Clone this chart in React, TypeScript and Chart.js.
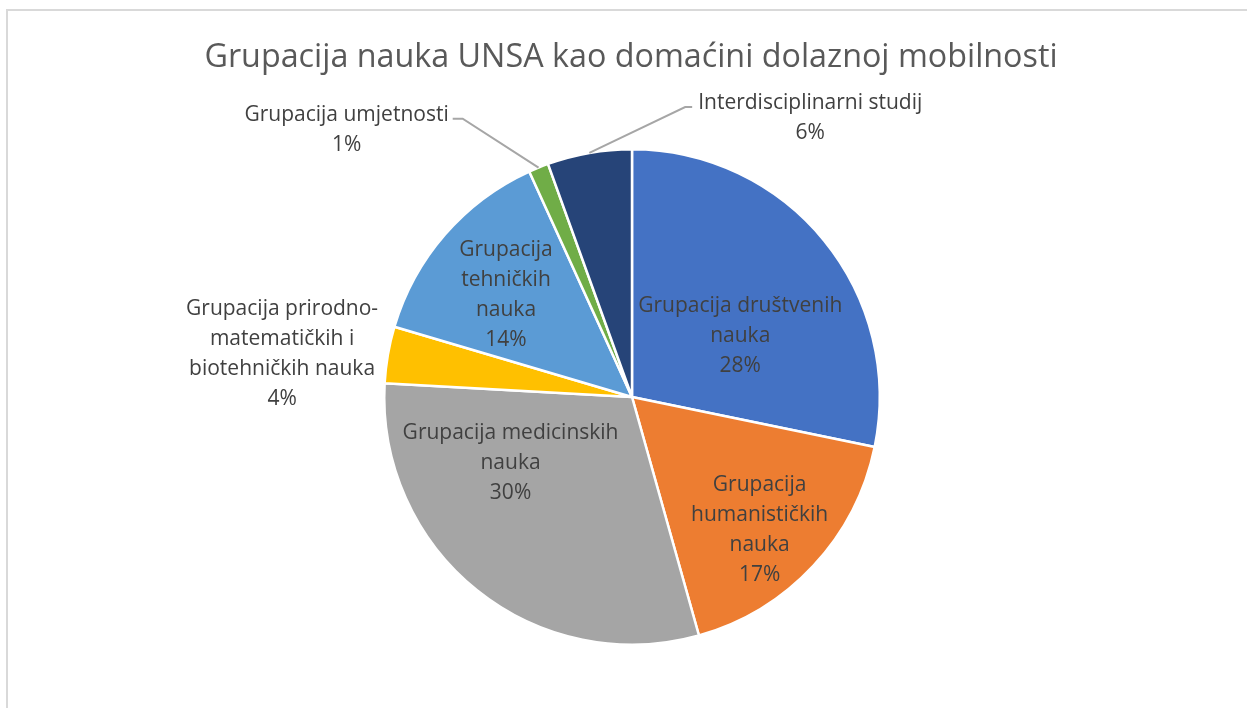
import { useEffect, useRef } from "react";
import { Chart, registerables } from "chart.js";

Chart.register(...registerables);

const TITLE = "Grupacija nauka UNSA kao domaćini dolaznoj mobilnosti";

const categories = [
  "Grupacija društvenih nauka",
  "Grupacija humanističkih nauka",
  "Grupacija medicinskih nauka",
  "Grupacija prirodno-matematičkih i biotehničkih nauka",
  "Grupacija tehničkih nauka",
  "Grupacija umjetnosti",
  "Interdisciplinarni studij",
];

const shares = [28.2, 17.4, 30.2, 3.7, 13.6, 1.3, 5.5];

const labelLines = [
  ["Grupacija društvenih", "nauka"],
  ["Grupacija", "humanističkih", "nauka"],
  ["Grupacija medicinskih", "nauka"],
  ["Grupacija prirodno-", "matematičkih i", "biotehničkih nauka"],
  ["Grupacija", "tehničkih", "nauka"],
  ["Grupacija umjetnosti"],
  ["Interdisciplinarni studij"],
];

const colors = ["#4472C4", "#ED7D31", "#A5A5A5", "#FFC000", "#5B9BD5", "#70AD47", "#264478"];

// label placement: angular shift (deg) from slice middle, distance as fraction of radius, leader side
const labelPlacement = [
  { shift: 8.9, dist: 0.506, leader: "" },
  { shift: 2.7, dist: 0.737, leader: "" },
  { shift: 23.3, dist: 0.555, leader: "" },
  { shift: -2.5, dist: 1.424, leader: "" },
  { shift: -1.4, dist: 0.66, leader: "" },
  { shift: -24.5, dist: 1.584, leader: "right" },
  { shift: 42.3, dist: 1.343, leader: "left" },
];

const FONT = "'Open Sans', 'Noto Sans', sans-serif";
const LABEL_SIZE = 21;
const TITLE_SIZE = 32.3;
const LINE_H = 30;
const TEXT_NUDGE = 2;

const decorPlugin = {
  id: "decor",
  beforeDraw(chart: any) {
    const ctx = chart.ctx;
    ctx.save();
    ctx.fillStyle = "#ffffff";
    ctx.fillRect(0, 0, chart.width, chart.height);
    ctx.strokeStyle = "#d9d9d9";
    ctx.lineWidth = 2;
    ctx.strokeRect(7, 10, chart.width + 20, chart.height + 20);
    ctx.fillStyle = "#595959";
    ctx.font = `${TITLE_SIZE}px ${FONT}`;
    ctx.textAlign = "center";
    ctx.textBaseline = "middle";
    ctx.fillText(TITLE, 631, 58);
    ctx.restore();
  },
  afterDatasetsDraw(chart: any) {
    const ctx = chart.ctx;
    const meta = chart.getDatasetMeta(0);
    const total = shares.reduce((a, b) => a + b, 0);
    ctx.save();
    ctx.font = `${LABEL_SIZE}px ${FONT}`;
    ctx.textAlign = "center";
    ctx.textBaseline = "middle";
    meta.data.forEach((arc: any, i: number) => {
      const { x, y, startAngle, endAngle, outerRadius } = arc.getProps(
        ["x", "y", "startAngle", "endAngle", "outerRadius"],
        true
      );
      const mid = (startAngle + endAngle) / 2;
      const p = labelPlacement[i];
      const a = mid + (p.shift * Math.PI) / 180;
      const cx = x + Math.cos(a) * outerRadius * p.dist;
      const cy = y + Math.sin(a) * outerRadius * p.dist;
      const lines = [...labelLines[i], `${Math.round((shares[i] / total) * 100)}%`];
      const n = lines.length;
      const top = cy - (n * LINE_H) / 2;
      ctx.fillStyle = "#404040";
      lines.forEach((t, k) => ctx.fillText(t, cx, top + LINE_H * (k + 0.5) + TEXT_NUDGE));
      if (p.leader) {
        const w = Math.max(...labelLines[i].map((t) => ctx.measureText(t).width));
        const ey = top + LINE_H * 0.7;
        const sx = x + Math.cos(mid) * outerRadius;
        const sy = y + Math.sin(mid) * outerRadius;
        let hx1, hx2;
        if (p.leader === "right") {
          hx1 = cx + w / 2 + 4;
          hx2 = hx1 + 10;
        } else {
          hx1 = cx - w / 2 - 6;
          hx2 = hx1 - 7;
        }
        ctx.strokeStyle = "#a6a6a6";
        ctx.lineWidth = 2;
        ctx.beginPath();
        ctx.moveTo(hx1, ey);
        ctx.lineTo(hx2, ey);
        ctx.lineTo(sx, sy);
        ctx.stroke();
      }
    });
    ctx.restore();
  },
};

export default function App() {
  const ref = useRef<HTMLCanvasElement | null>(null);
  useEffect(() => {
    if (!ref.current) return;
    const chart = new Chart(ref.current, {
      type: "pie",
      data: {
        labels: categories,
        datasets: [
          {
            data: shares,
            backgroundColor: colors,
            borderColor: "#ffffff",
            borderWidth: 2.5,
          },
        ],
      },
      options: {
        responsive: false,
        animation: false,
        layout: { padding: { top: 148, bottom: 62, left: 17, right: 0 } },
        plugins: {
          legend: { display: false },
          tooltip: { enabled: false },
          title: { display: false },
        },
      },
      plugins: [decorPlugin],
    });
    return () => chart.destroy();
  }, []);
  return (
    <div style={{ position: "fixed", left: 0, top: 0, width: 1247, height: 708, background: "#fff" }}>
      <canvas ref={ref} width={1247} height={708} style={{ width: 1247, height: 708, display: "block" }} />
    </div>
  );
}
